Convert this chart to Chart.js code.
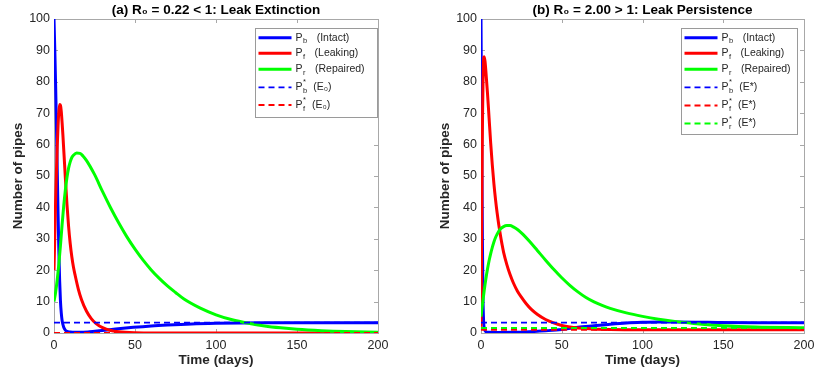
<!DOCTYPE html>
<html>
<head>
<meta charset="utf-8">
<script src="https://cdn.jsdelivr.net/npm/chart.js@4.4.1/dist/chart.umd.min.js"></script>
<style>
  html, body { margin: 0; padding: 0; background: #fff; }
  #wrap { position: relative; width: 814px; height: 374px; overflow: hidden; }
  .panel { position: absolute; top: 0; height: 374px; }
</style>
</head>
<body>
<div id="wrap">
  <div class="panel" style="left:0;width:410px"><canvas id="chartA" width="410" height="374"></canvas></div>
  <div class="panel" style="left:427px;width:387px"><canvas id="chartB" width="387" height="374"></canvas></div>
</div>
<script>
// ---- data ----
const xTickStep = 50;
const yTickStep = 10;
const timeRange = [0, 200];
const pipeRange = [0, 100];

// (a) R0 = 0.22 < 1
const timesPbA = [0, 0.5, 1, 1.5, 2, 2.5, 3, 3.5, 4, 4.5, 5, 6, 7, 8, 10, 13, 16, 22, 28, 38, 49, 60, 70, 85, 100, 115, 130, 150, 200];
const pbA      = [100, 90, 79, 66, 52, 38, 26, 16.5, 10, 6.3, 4, 1.8, 0.9, 0.5, 0.3, 0.22, 0.22, 0.4, 0.7, 1.25, 1.8, 2.25, 2.55, 2.9, 3.1, 3.22, 3.28, 3.3, 3.3];
const timesPfA = [0, 0.5, 1, 1.5, 2, 2.5, 3, 3.5, 4, 4.5, 5, 5.5, 6, 6.5, 7, 8, 9, 10, 11, 12, 13, 15, 17, 20, 23, 26, 30, 35, 40, 50, 60, 80, 200];
const pfA      = [20, 31, 42, 51.5, 59.5, 66, 70.5, 72.8, 72.5, 70.5, 67, 63, 58.5, 54, 49.5, 41, 34, 28.5, 24.3, 21, 18.5, 14, 10.6, 7, 4.6, 3, 1.7, 0.8, 0.4, 0.1, 0.03, 0, 0];
const timesPrA = [0, 1, 2, 3, 4, 5, 6, 7, 8, 9, 10, 11, 12, 14, 16, 18, 20, 25, 30, 35, 40, 45, 50, 55, 60, 65, 70, 75, 80, 90, 100, 110, 120, 130, 140, 150, 165, 180, 200];
const prA      = [10, 13, 17, 22, 28, 34.5, 40.5, 45.5, 49.5, 52.5, 54.5, 55.9, 56.6, 57.3, 57.2, 56.3, 55, 50.5, 45, 39.8, 35, 30.6, 26.7, 23.2, 20.1, 17.4, 15, 12.9, 10.9, 8, 5.8, 4.2, 3.1, 2.25, 1.65, 1.2, 0.75, 0.45, 0.22];
const pbStarA = 3.3;
const pfStarA = 0;

// (b) R0 = 2.00 > 1
const timesPbB = [0, 0.3, 0.6, 0.9, 1.2, 1.6, 2, 3, 5, 10, 20, 30, 40, 50, 60, 70, 80, 90, 100, 110, 120, 140, 170, 200];
const pbB      = [100, 75, 50, 28, 12, 4, 1.5, 0.4, 0.2, 0.15, 0.2, 0.4, 0.7, 1.1, 1.8, 2.3, 2.8, 3.2, 3.4, 3.5, 3.5, 3.4, 3.3, 3.3];
const timesPfB = [0, 0.25, 0.5, 0.75, 1, 1.25, 1.5, 1.75, 2, 2.5, 3, 4, 5, 6, 7, 8, 9, 10, 11, 12, 13, 14, 16, 18, 20, 22.5, 25, 28, 31, 35, 40, 45, 50, 55, 60, 70, 80, 100, 200];
const pfB      = [2, 20, 40, 58, 71, 80, 85.5, 87.8, 88, 86.5, 83.5, 76.5, 68.5, 60.5, 53.5, 47.5, 42.5, 38.2, 34.5, 31.2, 28.3, 25.7, 21.8, 18.6, 16, 13.4, 11.4, 9.3, 7.6, 5.9, 4.3, 3.2, 2.4, 1.9, 1.6, 1.25, 1.1, 1.02, 1];
const timesPrB = [0, 1, 2, 3, 4, 5, 6, 7, 8, 9, 10, 12, 14, 16, 18, 20, 23, 26, 30, 35, 40, 45, 50, 55, 60, 65, 70, 75, 80, 90, 100, 110, 120, 135, 150, 170, 200];
const prB      = [5.2, 9.5, 13.6, 17.2, 20.3, 23, 25.3, 27.3, 29, 30.4, 31.5, 33.1, 33.9, 34.2, 34.2, 33.8, 32.8, 31.4, 29.2, 26.2, 23.2, 20.3, 17.6, 15.2, 13.1, 11.3, 9.9, 8.8, 7.85, 6.4, 5.3, 4.4, 3.7, 2.85, 2.3, 1.9, 1.7];
const pbStarB = 3.3;
const pfStarB = 1.0;
const prStarB = 1.6;

const titleA = '(a) R\u2080 = 0.22 < 1: Leak Extinction';
const titleB = '(b) R\u2080 = 2.00 > 1: Leak Persistence';

// ---- styling ----
const FONT = '"Liberation Sans", Arial, Helvetica, sans-serif';
const BLUE = '#0000ff', RED = '#ff0000', GREEN = '#00ff00';
const INK = '#262626';
const AXIS_GREY = '#a8a8a8';

Chart.defaults.font.family = FONT;

function zip (times, values) {
  return times.map((t, i) => ({ x: t, y: values[i] }));
}

function flat (value) {
  return timeRange.map(t => ({ x: t, y: value }));
}

function solid (data, color, sub, desc) {
  return {
    data, borderColor: color, borderWidth: 3, pointRadius: 0,
    cubicInterpolationMode: 'monotone', fill: false,
    sym: 'P', sub, sup: '', desc
  };
}

function dashed (value, color, sub, desc) {
  return {
    data: flat(value), borderColor: color, borderWidth: 1.8, borderDash: [6, 4],
    pointRadius: 0, fill: false,
    sym: 'P', sub, sup: '*', desc
  };
}

// title centred over the plot area
const panelTitle = {
  id: 'panelTitle',
  afterDraw (chart, args, opts) {
    const { ctx, chartArea } = chart;
    ctx.save();
    ctx.font = 'bold 13.5px ' + FONT;
    ctx.fillStyle = '#000';
    ctx.textAlign = 'center';
    ctx.textBaseline = 'middle';
    ctx.fillText(opts.text, (chartArea.left + chartArea.right) / 2, 10);
    ctx.restore();
  }
};

// box around the axes with inward tick marks
const axesBox = {
  id: 'axesBox',
  beforeDatasetsDraw (chart) {
    const { ctx, chartArea: a, scales } = chart;
    const len = 4;
    ctx.save();
    ctx.strokeStyle = AXIS_GREY;
    ctx.lineWidth = 1;
    ctx.beginPath();
    scales.x.ticks.forEach(t => {
      const px = Math.round(scales.x.getPixelForValue(t.value)) + 0.5;
      ctx.moveTo(px, a.bottom); ctx.lineTo(px, a.bottom - len);
      ctx.moveTo(px, a.top); ctx.lineTo(px, a.top + len);
    });
    scales.y.ticks.forEach(t => {
      const py = Math.round(scales.y.getPixelForValue(t.value)) + 0.5;
      ctx.moveTo(a.left, py); ctx.lineTo(a.left + len, py);
      ctx.moveTo(a.right, py); ctx.lineTo(a.right - len, py);
    });
    ctx.stroke();
    ctx.strokeRect(Math.round(a.left) + 0.5, Math.round(a.top) + 0.5,
      Math.round(a.right - a.left), Math.round(a.bottom - a.top));
    ctx.restore();
  }
};

// legend with sub/superscripts
const symLegend = {
  id: 'symLegend',
  afterDraw (chart, args, opts) {
    const { ctx, chartArea: a } = chart;
    const left = a.right + opts.left;
    const top = a.top + opts.top;
    ctx.save();
    ctx.fillStyle = '#fff';
    ctx.fillRect(left, top, opts.width, opts.height);
    ctx.strokeStyle = '#9a9a9a';
    ctx.lineWidth = 1;
    ctx.strokeRect(Math.round(left) + 0.5, Math.round(top) + 0.5, opts.width, opts.height);

    chart.data.datasets.forEach((ds, i) => {
      const y = top + opts.rows[i];
      ctx.strokeStyle = ds.borderColor;
      ctx.lineWidth = ds.borderWidth;
      ctx.setLineDash(ds.borderDash || []);
      ctx.beginPath();
      ctx.moveTo(left + 3.5, y);
      ctx.lineTo(left + 36.5, y);
      ctx.stroke();
      ctx.setLineDash([]);

      ctx.fillStyle = INK;
      ctx.textAlign = 'left';
      ctx.textBaseline = 'middle';
      let x = left + 40.5;
      ctx.font = '10.5px ' + FONT;
      ctx.fillText(ds.sym, x, y);
      x += ctx.measureText(ds.sym).width + 0.5;
      ctx.font = '7.5px ' + FONT;
      ctx.fillText(ds.sub, x, y + 3.5);
      let w = ctx.measureText(ds.sub).width;
      if (ds.sup) {
        ctx.fillText(ds.sup, x, y - 5);
        w = Math.max(w, ctx.measureText(ds.sup).width);
      }
      x += w + (ds.sup ? 6 : 9.5);
      ctx.font = '10.5px ' + FONT;
      ctx.fillText(ds.desc, x, y);
    });
    ctx.restore();
  }
};

function makePanel (canvasId, title, datasets, rightPad, legend) {
  // later series are drawn on top, like the original plot
  datasets.forEach((ds, i) => { ds.order = datasets.length - i; });

  const tickFont = { family: FONT, size: 12.5 };
  const titleFont = { family: FONT, size: 13.5, weight: 'bold' };

  return new Chart(document.getElementById(canvasId), {
    type: 'line',
    data: { datasets },
    options: {
      responsive: false,
      devicePixelRatio: 1,
      animation: false,
      layout: { padding: { top: 19, right: rightPad, left: 0, bottom: 0 } },
      plugins: {
        legend: { display: false },
        tooltip: { enabled: false },
        panelTitle: { text: title },
        symLegend: legend
      },
      scales: {
        x: {
          type: 'linear',
          min: timeRange[0], max: timeRange[1],
          ticks: { stepSize: xTickStep, padding: 5, color: INK, font: tickFont, maxRotation: 0 },
          grid: { display: false, drawTicks: false },
          border: { display: false },
          title: { display: true, text: 'Time (days)', color: INK, font: titleFont, padding: { top: 0, bottom: 6 } },
          afterFit (s) { s.height = 41; s.paddingLeft = 0; s.paddingRight = 0; }
        },
        y: {
          min: pipeRange[0], max: pipeRange[1],
          ticks: { stepSize: yTickStep, padding: 4, color: INK, font: tickFont },
          grid: { display: false, drawTicks: false },
          border: { display: false },
          title: { display: true, text: 'Number of pipes', color: INK, font: titleFont, padding: { top: 10, bottom: 0 } },
          afterFit (s) { s.width = 54; }
        }
      }
    },
    plugins: [axesBox, panelTitle, symLegend]
  });
}

makePanel('chartA', titleA, [
  solid(zip(timesPbA, pbA), BLUE, 'b', '(Intact)'),
  solid(zip(timesPfA, pfA), RED, 'f', '(Leaking)'),
  solid(zip(timesPrA, prA), GREEN, 'r', '(Repaired)'),
  dashed(pbStarA, BLUE, 'b', '(E\u2080)'),
  dashed(pfStarA, RED, 'f', '(E\u2080)')
], 32, { left: -123, top: 9, width: 122, height: 89, rows: [9.7, 25.3, 41.3, 59.3, 77] });

makePanel('chartB', titleB, [
  solid(zip(timesPbB, pbB), BLUE, 'b', '(Intact)'),
  solid(zip(timesPfB, pfB), RED, 'f', '(Leaking)'),
  solid(zip(timesPrB, prB), GREEN, 'r', '(Repaired)'),
  dashed(pbStarB, BLUE, 'b', '(E*)'),
  dashed(pfStarB, RED, 'f', '(E*)'),
  dashed(prStarB, GREEN, 'r', '(E*)')
], 10, { left: -123, top: 9, width: 116, height: 106, rows: [9.7, 25.3, 41.3, 59.3, 77.5, 95.5] });
</script>
</body>
</html>
